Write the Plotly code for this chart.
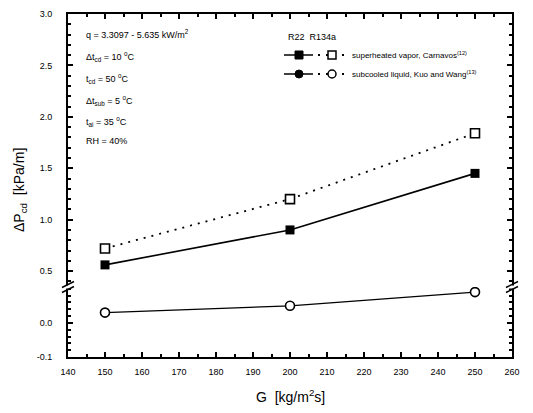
import plotly.graph_objects as go

# ---- data ----
G = [150, 200, 250]
dp_vapor_r22 = [0.56, 0.90, 1.45]
dp_vapor_r134a = [0.72, 1.20, 1.84]
dp_liquid_r22 = [0.03, 0.05, 0.09]
dp_liquid_r134a = [0.03, 0.05, 0.09]

x_ticks = [140, 150, 160, 170, 180, 190, 200, 210, 220, 230, 240, 250, 260]
y_upper_ticks = [0.5, 1.0, 1.5, 2.0, 2.5, 3.0]
y_lower_ticks = [-0.1, 0.0]

info_lines = [
    "q = 3.3097 - 5.635 kW/m<sup>2</sup>",
    "Δt<sub>cd</sub> = 10 <sup>o</sup>C",
    "t<sub>cd</sub> = 50 <sup>o</sup>C",
    "Δt<sub>sub</sub> = 5 <sup>o</sup>C",
    "t<sub>ai</sub> = 35 <sup>o</sup>C",
    "RH = 40%",
]
legend_rows = [
    "superheated vapor, Carnavos<sup>(12)</sup>",
    "subcooled liquid, Kuo and Wang<sup>(13)</sup>",
]

W, H = 533, 413
L, R, T, B = 68, 21, 14, 56
PW, PH = W - L - R, H - T - B
BREAK_PX = 287  # pixel y of axis break
d1 = (T + PH - BREAK_PX) / PH

FONT = "Liberation Sans, Arial, sans-serif"
DOTS = "2px,6px"

def px(x):
    return (x - L) / PW

def py(y):
    return (T + PH - y) / PH

fig = go.Figure()

# upper subplot (vapor)
fig.add_trace(go.Scatter(x=G, y=dp_vapor_r22, xaxis="x2", yaxis="y2", mode="lines+markers",
                         line=dict(color="black", width=1.6),
                         marker=dict(symbol="square", size=9, color="black"), showlegend=False))
fig.add_trace(go.Scatter(x=G, y=dp_vapor_r134a, xaxis="x2", yaxis="y2", mode="lines+markers",
                         line=dict(color="black", width=1.8, dash=DOTS),
                         marker=dict(symbol="square", size=9, color="white",
                                     line=dict(color="black", width=1.6)), showlegend=False))
# lower subplot (liquid)
fig.add_trace(go.Scatter(x=G, y=dp_liquid_r22, xaxis="x", yaxis="y", mode="lines+markers",
                         line=dict(color="black", width=1.3),
                         marker=dict(symbol="circle", size=8, color="black"), showlegend=False))
fig.add_trace(go.Scatter(x=G, y=dp_liquid_r134a, xaxis="x", yaxis="y", mode="markers",
                         marker=dict(symbol="circle", size=9, color="white",
                                     line=dict(color="black", width=1.6)), showlegend=False))

axis_common = dict(showline=True, linecolor="black", linewidth=2, ticks="inside",
                   tickcolor="black", ticklen=5, tickwidth=1.5, showgrid=False, zeroline=False,
                   automargin=False,
                   tickfont=dict(family=FONT, size=9, color="black"))

fig.update_layout(
    width=W, height=H,
    margin=dict(l=L, r=R, t=T, b=B),
    paper_bgcolor="white", plot_bgcolor="white",
    xaxis=dict(domain=[0, 1], anchor="y", range=[140, 260], tickvals=x_ticks,
               ticktext=[str(v) for v in x_ticks], mirror=False,
               minor=dict(dtick=5, ticks="inside", ticklen=3, tickcolor="black"),
               ticklabelstandoff=5,
               **axis_common),
    xaxis2=dict(domain=[0, 1], anchor="y2", range=[140, 260], matches="x", side="top",
                tickvals=x_ticks, showticklabels=False,
                minor=dict(dtick=5, ticks="inside", ticklen=3, tickcolor="black"),
                **axis_common),
    yaxis=dict(domain=[0, d1], anchor="x", range=[-0.1, 0.105], tickvals=y_lower_ticks,
               ticktext=["-0.1", "0.0"], mirror="ticks", ticklabelstandoff=12,
               minor=dict(dtick=0.02, ticks="inside", ticklen=3, tickcolor="black"),
               **axis_common),
    yaxis2=dict(domain=[d1, 1], anchor="x2", range=[0.345, 3.0], tickvals=y_upper_ticks,
                ticktext=[f"{v:.1f}" for v in y_upper_ticks], mirror="ticks", ticklabelstandoff=12,
                minor=dict(dtick=0.1, ticks="inside", ticklen=3, tickcolor="black"),
                **axis_common),
)

annotations = []
# axis titles
annotations.append(dict(text="ΔP<sub>cd</sub>  [kPa/m]", xref="paper", yref="paper",
                        x=px(20), y=py(190), textangle=-90, showarrow=False,
                        font=dict(family=FONT, size=14, color="black"),
                        xanchor="center", yanchor="middle"))
annotations.append(dict(text="G  [kg/m<sup>2</sup>s]", xref="paper", yref="paper",
                        x=px(290), y=py(396), showarrow=False,
                        font=dict(family=FONT, size=14, color="black"),
                        xanchor="center", yanchor="middle"))
# condition text block
info_y = [34, 56, 78, 100, 122, 141]
for t, yy in zip(info_lines, info_y):
    annotations.append(dict(text=t, xref="paper", yref="paper", x=px(84), y=py(yy),
                            xanchor="left", yanchor="middle", showarrow=False,
                            font=dict(family=FONT, size=9, color="black")))
# legend header
annotations.append(dict(text="R22  R134a", xref="paper", yref="paper", x=px(286), y=py(37),
                        xanchor="left", yanchor="middle", showarrow=False,
                        font=dict(family=FONT, size=9, color="black")))
row_y = [55, 74]
for t, yy in zip(legend_rows, row_y):
    annotations.append(dict(text=t, xref="paper", yref="paper", x=px(350), y=py(yy),
                            xanchor="left", yanchor="middle", showarrow=False,
                            font=dict(family=FONT, size=8, color="black")))

shapes = []
for i, yy in enumerate(row_y):
    # solid sample
    shapes.append(dict(type="line", xref="paper", yref="paper", x0=px(284), x1=px(313),
                       y0=py(yy), y1=py(yy), line=dict(color="black", width=1.5)))
    # dotted sample
    shapes.append(dict(type="line", xref="paper", yref="paper", x0=px(318), x1=px(347),
                       y0=py(yy), y1=py(yy), line=dict(color="black", width=1.8, dash=DOTS)))
    kind = "rect" if i == 0 else "circle"
    s = 4
    shapes.append(dict(type=kind, xref="paper", yref="paper", x0=px(299 - s), x1=px(299 + s),
                       y0=py(yy + s), y1=py(yy - s), fillcolor="black", line=dict(color="black", width=1)))
    shapes.append(dict(type=kind, xref="paper", yref="paper", x0=px(332 - s), x1=px(332 + s),
                       y0=py(yy + s), y1=py(yy - s), fillcolor="white", line=dict(color="black", width=1.5)))

# axis break marks
for bx in (L, L + PW):
    shapes.append(dict(type="rect", xref="paper", yref="paper", x0=px(bx - 3), x1=px(bx + 3),
                       y0=py(BREAK_PX + 1.5), y1=py(BREAK_PX - 1.5), fillcolor="white",
                       line=dict(width=0), layer="above"))
    for off in (-2.5, 2.5):
        shapes.append(dict(type="line", xref="paper", yref="paper",
                           x0=px(bx - 6), x1=px(bx + 6),
                           y0=py(BREAK_PX + off + 3), y1=py(BREAK_PX + off - 3),
                           line=dict(color="black", width=1.5), layer="above"))

fig.update_layout(annotations=annotations, shapes=shapes)
fig.write_html("out.html")
